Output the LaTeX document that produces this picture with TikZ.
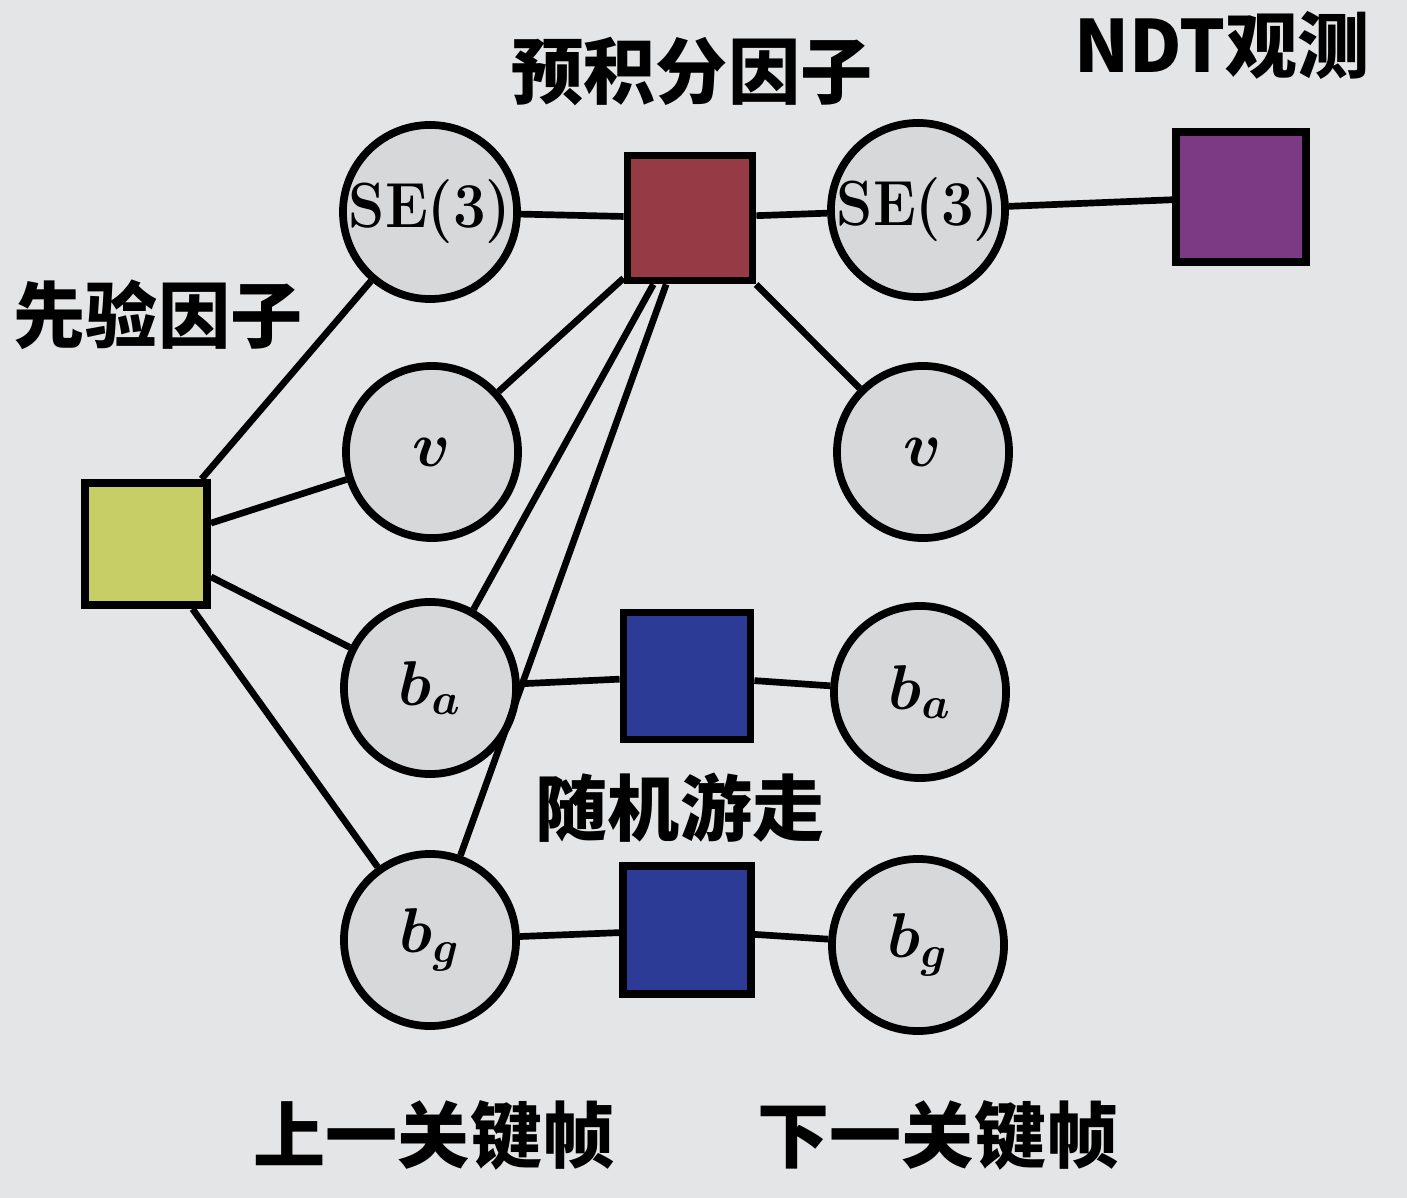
\RequirePackage{fix-cm}
\documentclass[tikz,border=0pt]{standalone}
\usepackage{amsmath,bm}
\usepackage{graphicx}
\usepackage{fontspec}
\newfontfamily\cjk{Noto Sans CJK SC}
\definecolor{bgc}{RGB}{228,229,230}
\definecolor{cfill}{RGB}{214,216,218}
\definecolor{yel}{RGB}{200,206,102}
\definecolor{redf}{RGB}{150,58,70}
\definecolor{purf}{RGB}{125,58,132}
\definecolor{bluf}{RGB}{44,60,150}
\tikzset{
  var/.style={circle, draw=black, line width=2.2pt, fill=cfill, minimum size=1.72cm, inner sep=0pt},
  fac/.style={rectangle, draw=black, line width=2.2pt, minimum size=1.22cm, inner sep=0pt},
  edge/.style={line width=1.9pt, black},
  lab/.style={font=\cjk\bfseries\fontsize{20.5}{25}\selectfont, inner sep=0pt},
}
\newcommand{\setxt}{\scalebox{1}[1.1]{\fontsize{16.5}{19}\selectfont\boldmath$\mathbf{SE(3)}$}}
\newcommand{\mv}[1]{{\fontsize{18}{20}\selectfont$\bm{#1}$}}
\begin{document}
\begin{tikzpicture}[x=0.01cm,y=-0.01cm]
\fill[bgc] (0,0) rectangle (1407,1198);
\useasboundingbox (0,0) rectangle (1407,1198);
% variables
\node[var] (se1) at (430,212) {\setxt};
\node[var] (v1) at (432,452) {\mv{v}};
\node[var] (ba1) at (430,688) {\mv{b_a}};
\node[var] (bg1) at (430,940) {\mv{b_g}};
\node[var] (se2) at (918,210) {\setxt};
\node[var] (v2) at (923,452) {\mv{v}};
\node[var] (ba2) at (920,692) {\mv{b_a}};
\node[var] (bg2) at (918,945) {\mv{b_g}};
% factors
\node[fac, fill=yel] (prior) at (146,544) {};
\node[fac, fill=redf, minimum size=1.25cm] (pre) at (690,218) {};
\node[fac, fill=purf, minimum size=1.3cm] (ndt) at (1241,197) {};
\node[fac, fill=bluf, minimum size=1.27cm] (rw1) at (687,676) {};
\node[fac, fill=bluf, minimum size=1.28cm] (rw2) at (687,930) {};
% labels
\node[lab] (lpre) at (692,72) {预积分因子};
\node[lab] (lndt) at (1222,45) {NDT观测};
\node[lab] (lprior) at (158,315) {先验因子};
\node[lab] (lrw) at (680,808) {随机游走};
\node[lab] (lprev) at (434,1135) {上一关键帧};
\node[lab] (lnext) at (938,1135) {下一关键帧};
% edges
\draw[edge] (prior) -- (se1);
\draw[edge] (prior) -- (v1);
\draw[edge] (prior) -- (ba1);
\draw[edge] (prior) -- (bg1);
\draw[edge] (se1) -- (pre);
\draw[edge] (pre) -- (se2);
\draw[edge] (pre) -- (v1);
\draw[edge] (pre) -- (ba1);
\draw[edge] (pre) -- (bg1);
\draw[edge] (pre) -- (v2);
\draw[edge] (se2) -- (ndt);
\draw[edge] (ba1) -- (rw1);
\draw[edge] (rw1) -- (ba2);
\draw[edge] (bg1) -- (rw2);
\draw[edge] (rw2) -- (bg2);
\end{tikzpicture}
\end{document}
